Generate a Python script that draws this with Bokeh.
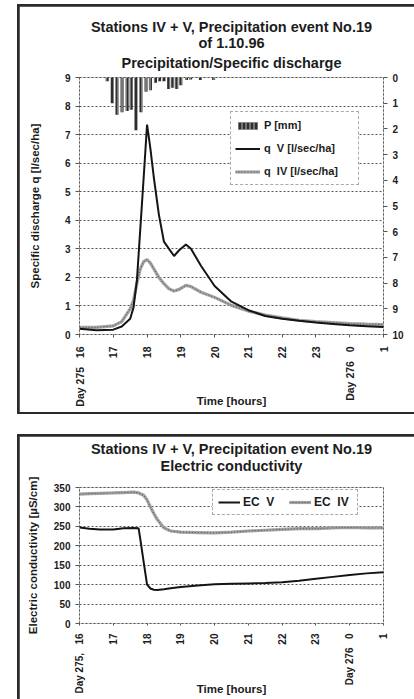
import math
from bokeh.plotting import figure
from bokeh.models import (Range1d, LinearAxis, FixedTicker, Legend, LegendItem, Title)
from bokeh.layouts import column
from bokeh.embed import file_html
from bokeh.resources import INLINE

FONT = "Liberation Sans"
TXT = "#1c1c1c"

# ---------------- data: top panel ----------------
hour_ticks = [16, 17, 18, 19, 20, 21, 22, 23, 24, 25]
hour_labels_top = {16: "Day 275\u00a0\u00a0\u00a016", 17: "17", 18: "18", 19: "19", 20: "20",
                   21: "21", 22: "22", 23: "23", 24: "Day 276\u00a0\u00a0\u00a00", 25: "1"}
hour_labels_bot = {16: "Day 275,\u00a0\u00a0\u00a016", 17: "17", 18: "18", 19: "19", 20: "20",
                   21: "21", 22: "22", 23: "23", 24: "Day 276\u00a0\u00a0\u00a00", 25: "1"}

q_time = [16.0, 16.5, 17.0, 17.25, 17.5, 17.6, 17.7, 17.8, 17.9, 18.0, 18.1, 18.2, 18.35,
          18.5, 18.65, 18.8, 18.95, 19.15, 19.3, 19.6, 20.0, 20.5, 21.0, 21.5, 22.0, 22.5,
          23.0, 23.5, 24.0, 24.5, 25.0]
q_V = [0.2, 0.15, 0.17, 0.28, 0.55, 0.95, 1.9, 3.7, 5.5, 7.35, 6.5, 5.5, 4.2,
       3.25, 3.0, 2.75, 2.95, 3.15, 3.0, 2.4, 1.7, 1.15, 0.85, 0.65, 0.55, 0.48,
       0.42, 0.37, 0.32, 0.29, 0.26]
q_IV = [0.25, 0.25, 0.3, 0.45, 0.9, 1.2, 1.8, 2.3, 2.55, 2.62, 2.5, 2.3, 2.0,
        1.78, 1.6, 1.52, 1.58, 1.72, 1.68, 1.48, 1.3, 1.02, 0.82, 0.68, 0.58, 0.5,
        0.45, 0.42, 0.38, 0.36, 0.35]

p_time = [16.82, 16.97, 17.11, 17.26, 17.41, 17.53, 17.67, 17.82, 17.97, 18.1, 18.25,
          18.37, 18.5, 18.64, 18.76, 18.88, 19.0, 19.17, 19.29, 19.58, 19.97]
p_mm = [0.15, 1.0, 1.45, 1.35, 1.3, 1.25, 2.05, 1.35, 0.55, 0.5, 0.2,
        0.15, 0.15, 0.45, 0.4, 0.45, 0.3, 0.1, 0.08, 0.1, 0.1]

q_ticks = [0, 1, 2, 3, 4, 5, 6, 7, 8, 9]
p_ticks = [0, 1, 2, 3, 4, 5, 6, 7, 8, 9, 10]

# ---------------- data: bottom panel ----------------
ec_time = [16.0, 16.3, 16.6, 17.0, 17.3, 17.6, 17.75, 17.8, 17.9, 18.0, 18.1, 18.2, 18.3,
           18.5, 18.7, 19.0, 19.5, 20.0, 20.5, 21.0, 21.5, 22.0, 22.5, 23.0, 23.5, 24.0,
           24.5, 25.0]
ec_V = [247, 244, 242, 242, 245, 246, 245, 217, 158, 100, 90, 87, 86,
        88, 91, 94, 98, 101, 102, 103, 104, 106, 110, 115, 120, 125, 129, 132]
ec_IV = [333, 334, 335, 336, 337, 338, 336, 334, 330, 318, 300, 283, 268,
         246, 238, 235, 234, 233, 235, 238, 240, 242, 244, 244, 246, 247, 246, 246]
ec_ticks = [0, 50, 100, 150, 200, 250, 300, 350]

titles_top = ["Stations IV + V, Precipitation event No.19", "of 1.10.96",
              "Precipitation/Specific discharge"]
titles_bot = ["Stations IV + V, Precipitation event No.19", "Electric conductivity"]


def style_axis(ax, tick_out=4, standoff=5, size="10px"):
    ax.major_label_text_font = FONT
    ax.major_label_text_font_size = size
    ax.major_label_text_font_style = "bold"
    ax.major_label_text_color = TXT
    ax.axis_label_text_font = FONT
    ax.axis_label_text_font_size = "11.5px"
    ax.axis_label_text_font_style = "bold"
    ax.axis_label_text_color = TXT
    ax.axis_line_color = None
    ax.major_tick_line_color = "#555555"
    ax.major_tick_in = 0
    ax.major_tick_out = tick_out
    ax.major_label_standoff = standoff
    ax.minor_tick_line_color = None


def add_titles(p, texts, standoffs):
    # texts ordered top->bottom; add the one nearest the frame first
    for t, s in zip(reversed(texts), reversed(standoffs)):
        p.add_layout(Title(text=t, align="center", text_font=FONT, text_font_style="bold",
                           text_color=TXT, text_font_size="14.5px", standoff=s), "above")


def base_fig(w, h, ymax, left, right, top, bottom):
    p = figure(width=w, height=h, output_backend="svg", toolbar_location=None,
               x_range=Range1d(16, 25), y_range=Range1d(0, ymax),
               min_border_left=left, min_border_right=right, min_border_top=top,
               min_border_bottom=bottom)
    p.title.text = ""
    p.outline_line_color = "#555555"
    p.outline_line_dash = "2 2"
    p.xgrid.visible = False
    p.ygrid.grid_line_color = "#555555"
    p.ygrid.grid_line_dash = "2 2"
    p.background_fill_color = "white"
    p.border_fill_color = "white"
    return p


# ---------------- top figure ----------------
p1 = base_fig(395, 406, 9, 60, 31, 71, 78)
add_titles(p1, titles_top, [5, -9, 13])
p1.extra_y_ranges = {"p": Range1d(10, 0)}

p1.xaxis.ticker = FixedTicker(ticks=hour_ticks)
p1.xaxis.major_label_overrides = hour_labels_top
p1.xaxis.major_label_orientation = math.pi / 2
p1.xaxis.axis_label = "Time [hours]"
style_axis(p1.xaxis[0], tick_out=3, standoff=9, size="10.5px")
p1.xaxis.axis_label_standoff = -15

p1.yaxis.ticker = FixedTicker(ticks=q_ticks)
p1.yaxis.axis_label = "Specific discharge q [l/sec/ha]"
style_axis(p1.yaxis[0])
p1.yaxis.axis_label_standoff = 21
p1.ygrid.ticker = FixedTicker(ticks=q_ticks)

ax_r = LinearAxis(y_range_name="p", ticker=FixedTicker(ticks=p_ticks))
style_axis(ax_r)
p1.add_layout(ax_r, "right")

rP = p1.vbar(x=p_time, width=0.09, top=0, bottom=p_mm, y_range_name="p",
             fill_color="#2e2e2e", line_color=None,
             hatch_pattern="vertical_line", hatch_color="#bdbdbd", hatch_scale=4, hatch_weight=1)
rIV = p1.line(q_time, q_IV, line_color="#a3a3a3", line_width=3.2)
rIV2 = p1.line(q_time, q_IV, line_color="#4d4d4d", line_width=1, line_dash="1 2")
rV = p1.line(q_time, q_V, line_color="#141414", line_width=2)

leg1 = Legend(items=[LegendItem(label="P [mm]", renderers=[rP]),
                     LegendItem(label="q\u00a0\u00a0V [l/sec/ha]", renderers=[rV]),
                     LegendItem(label="q\u00a0\u00a0IV [l/sec/ha]", renderers=[rIV, rIV2])],
              location=(151, 149))
leg1.label_text_font = FONT
leg1.label_text_font_size = "11px"
leg1.label_text_font_style = "bold"
leg1.label_text_color = TXT
leg1.glyph_width = 25
leg1.glyph_height = 9
leg1.label_height = 18
leg1.label_width = 90
leg1.spacing = 5
leg1.padding = 4
leg1.margin = 0
leg1.label_standoff = 4
leg1.border_line_color = "#555555"
leg1.border_line_dash = "2 2"
leg1.background_fill_alpha = 1
p1.add_layout(leg1)

# ---------------- bottom figure ----------------
p2 = base_fig(395, 263, 350, 60, 31, 51, 76)
add_titles(p2, titles_bot, [-30, 28])

p2.xaxis.ticker = FixedTicker(ticks=hour_ticks)
p2.xaxis.major_label_overrides = hour_labels_bot
p2.xaxis.major_label_orientation = math.pi / 2
p2.xaxis.axis_label = "Time [hours]"
style_axis(p2.xaxis[0], tick_out=2, standoff=8)
p2.xaxis.axis_label_standoff = -14

p2.yaxis.ticker = FixedTicker(ticks=ec_ticks)
p2.yaxis.axis_label = "Electric conductivity [\u00b5S/cm]"
style_axis(p2.yaxis[0])
p2.yaxis.axis_label_standoff = 12
p2.ygrid.ticker = FixedTicker(ticks=ec_ticks)

eIV = p2.line(ec_time, ec_IV, line_color="#a3a3a3", line_width=3.2)
eIV2 = p2.line(ec_time, ec_IV, line_color="#4d4d4d", line_width=1, line_dash="1 2")
eV = p2.line(ec_time, ec_V, line_color="#141414", line_width=2)

leg2 = Legend(items=[LegendItem(label="EC\u00a0\u00a0V", renderers=[eV]),
                     LegendItem(label="EC\u00a0\u00a0IV", renderers=[eIV, eIV2])],
              location=(133, 108), orientation="horizontal")
leg2.label_text_font = FONT
leg2.label_text_font_size = "12px"
leg2.label_text_font_style = "bold"
leg2.label_text_color = TXT
leg2.glyph_width = 22
leg2.glyph_height = 14
leg2.label_height = 14
leg2.label_width = 38
leg2.spacing = 8
leg2.padding = 5
leg2.margin = 0
leg2.label_standoff = 3
leg2.border_line_color = "#555555"
leg2.border_line_dash = "2 2"
leg2.background_fill_alpha = 1
p2.add_layout(leg2)

# panel frames: dark background of a wrapper shows through the figures' margins
p1.margin = (2, 0, 2, 2)
p2.margin = (2, 0, 0, 2)
c1 = column(p1, styles={"background-color": "#2a2a2a"}, margin=(4, 0, 0, 17))
c2 = column(p2, styles={"background-color": "#2a2a2a"}, margin=(20, 0, 0, 17))

layout = column(c1, c2, spacing=0)
open("out.html", "w").write(file_html(layout, INLINE))
